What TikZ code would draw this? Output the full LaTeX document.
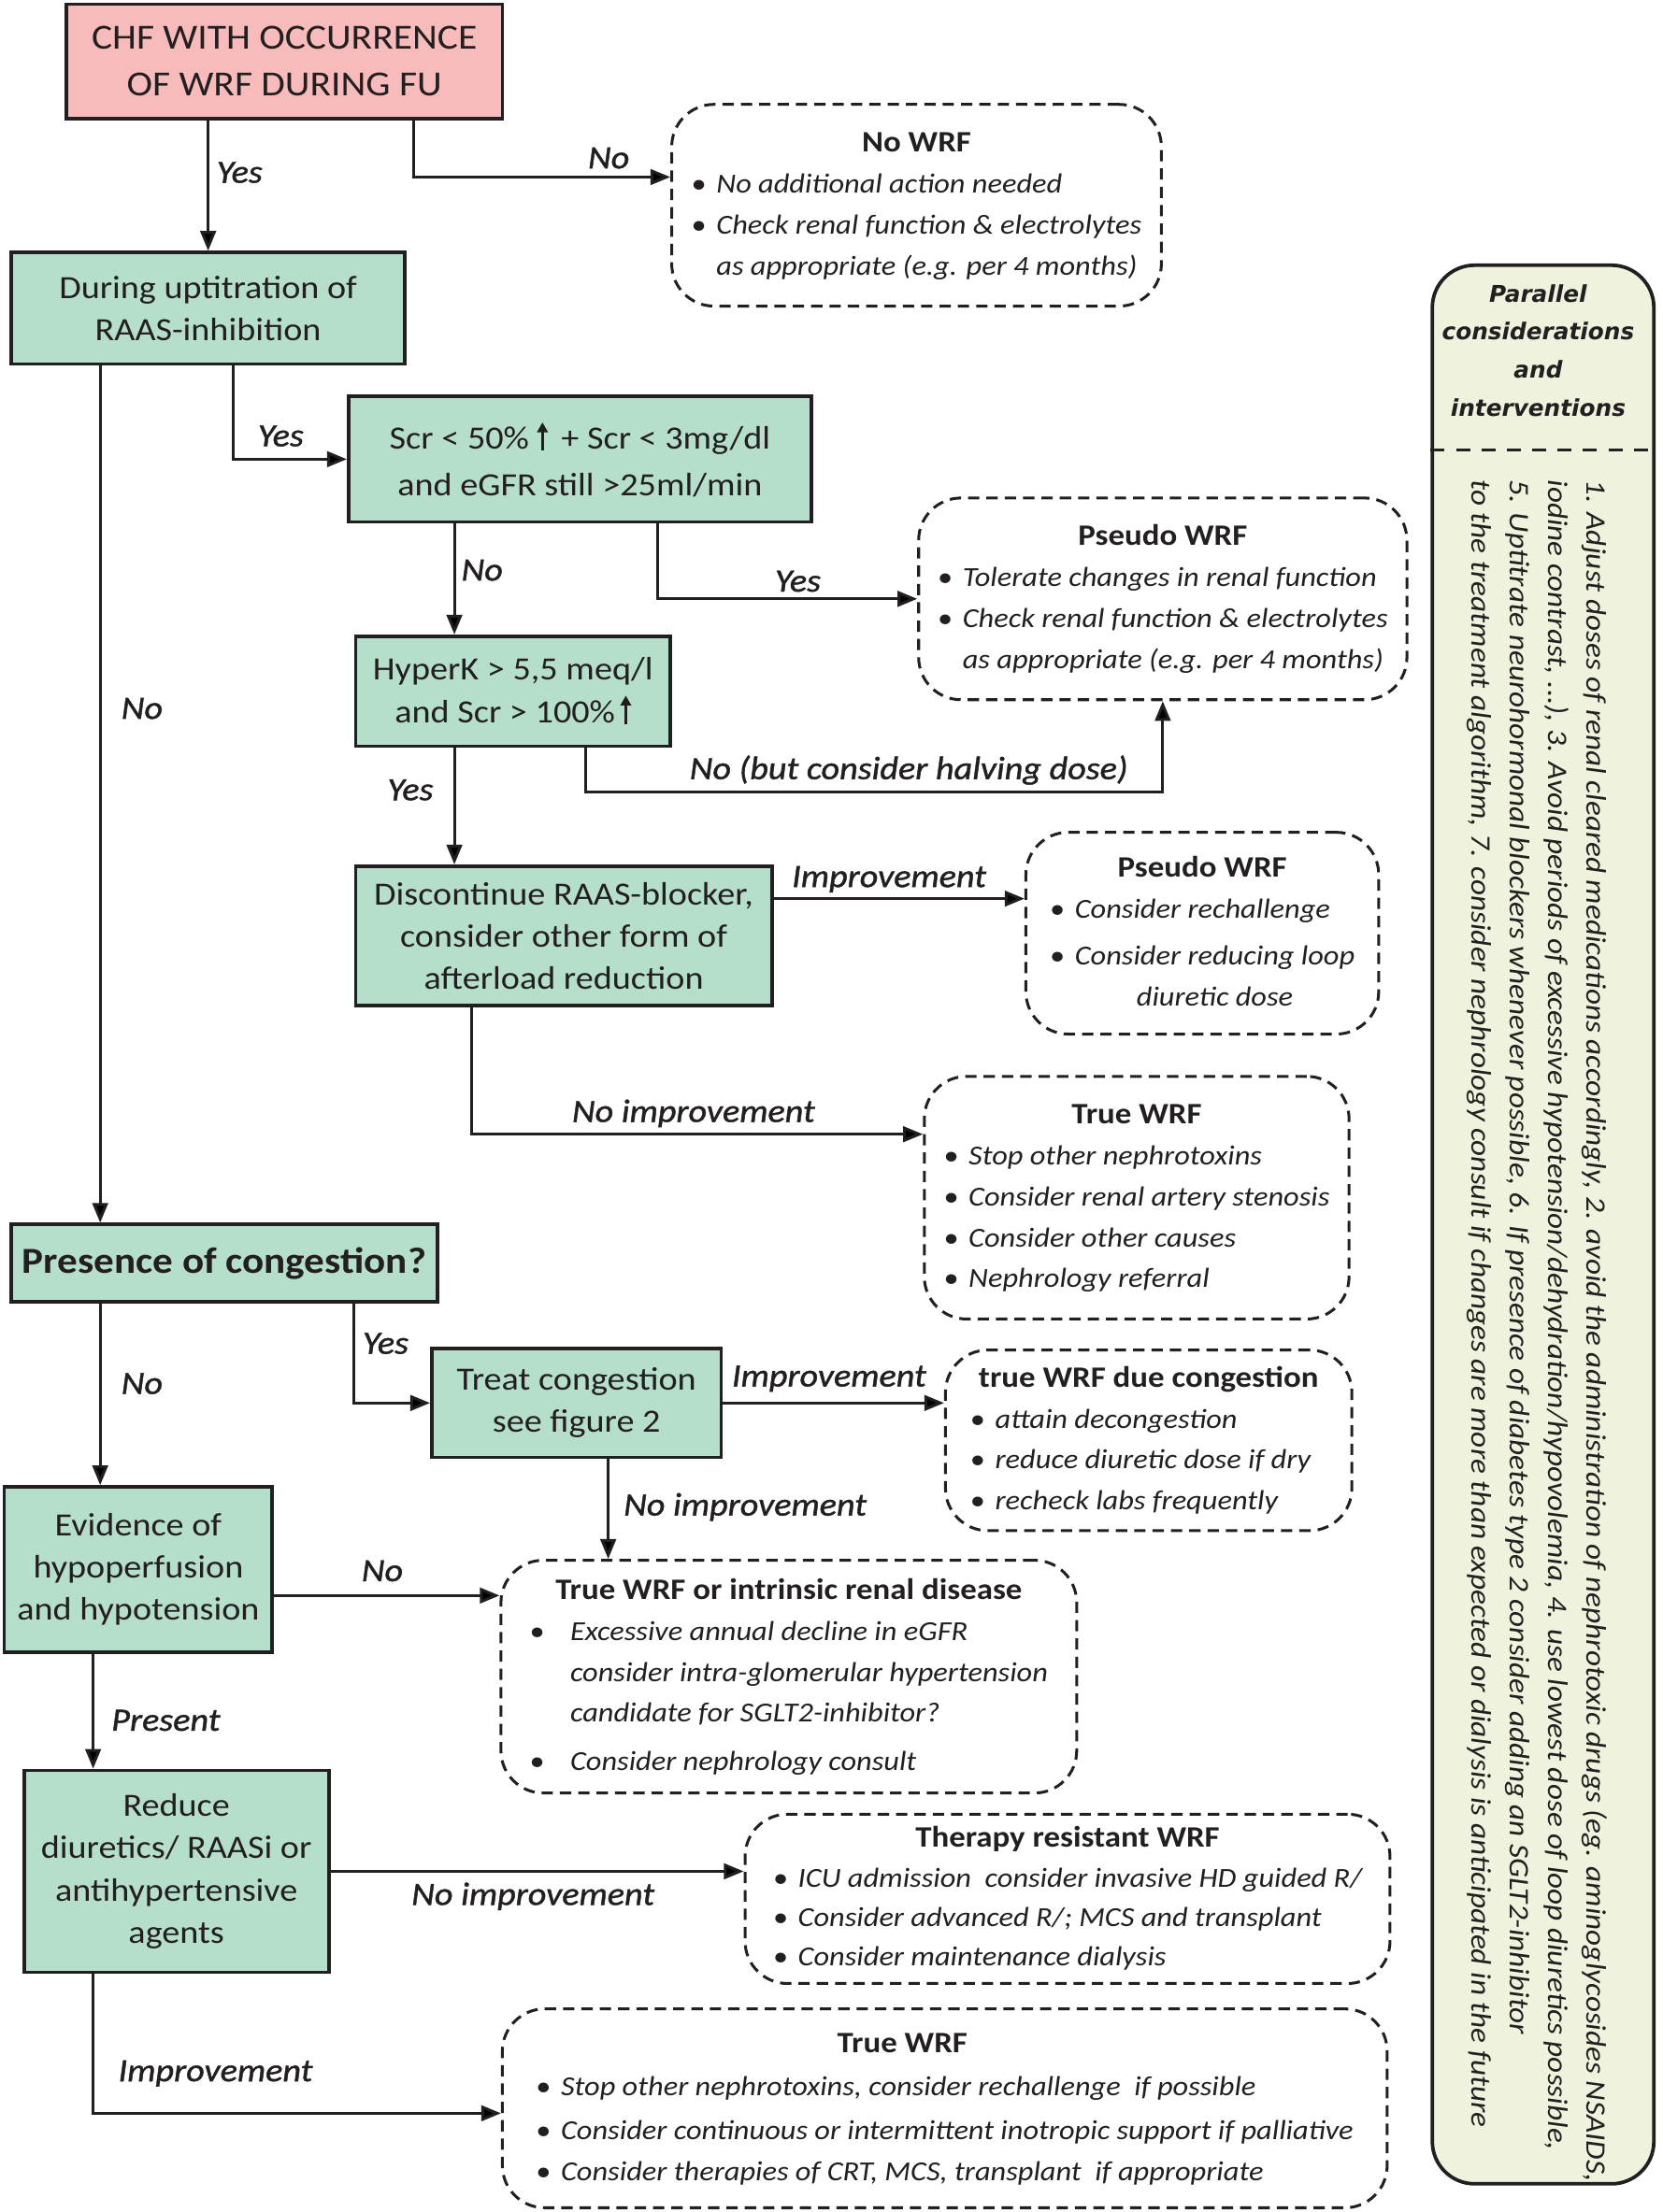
\documentclass[tikz,border=0pt]{standalone}
\usepackage{fontspec}
\setmainfont{Carlito}[FakeStretch=1.1]
\newfontfamily\labfont{Carlito}[FakeStretch=1.1, FakeBold=1.2]
\newfontfamily\headfont{DejaVu Sans}
\usepackage{array}
\usepackage{tikz}
\usetikzlibrary{arrows.meta}

\definecolor{linec}{HTML}{231F20}
\definecolor{greenc}{HTML}{B6DFCB}
\definecolor{pinkc}{HTML}{F8BBBB}
\definecolor{panelc}{HTML}{EFF2DD}

\newcommand{\uparr}{\tikz[baseline=0pt]\draw[linec,line width=1.6pt,-{Triangle[length=7pt,width=7.5pt]}] (0pt,-1pt) -- (0pt,19pt);}
\newcommand{\bul}{\textbullet}
\newcommand{\ttl}[1]{\multicolumn{2}{c}{\fontsize{21}{29}\selectfont\bfseries #1}}

\tikzset{
  greenbox/.style={draw=linec, line width=2.5pt, fill=greenc, text=linec, align=center, inner sep=0pt, font=\fontsize{23}{30}\selectfont},
  dashbox/.style={draw=linec, line width=2pt, dash pattern=on 8pt off 5pt, rounded corners=30pt, text=linec, inner sep=0pt, font=\fontsize{19.5}{29}\selectfont},
  arr/.style={draw=linec, line width=2pt, -{Triangle[length=14pt,width=11pt]}},
  lab/.style={text=linec, inner sep=2pt, font=\labfont\fontsize{23}{27}\selectfont\itshape},
}

\begin{document}
\begin{tikzpicture}[x=1pt,y=-1pt]
    \fill[white] (0,0) rectangle (1178,1568);
    \useasboundingbox (0,0) rectangle (1178,1568);

    % decision boxes
    \node[greenbox, fill=pinkc, minimum width=309pt, minimum height=81pt, font=\fontsize{25}{33}\selectfont] (chf) at (201.5,43.5) {CHF WITH OCCURRENCE\\OF WRF DURING FU};
    \node[greenbox, minimum width=279pt, minimum height=79pt] (during) at (147.5,218.5) {During uptitration of\\RAAS-inhibition};
    \node[greenbox, minimum width=328pt, minimum height=89pt, font=\fontsize{23}{33}\selectfont] (scr) at (411,325.5) {Scr < 50\% \uparr{} \,+ Scr < 3mg/dl\\and eGFR still >25ml/min};
    \node[greenbox, minimum width=223pt, minimum height=78pt] (hyperk) at (363.5,490) {HyperK > 5,5 meq/l\\and Scr > 100\%\,\uparr};
    \node[greenbox, minimum width=295pt, minimum height=99pt] (discont) at (399.5,663.5) {Discontinue RAAS-blocker,\\consider other form of\\afterload reduction};
    \node[greenbox, minimum width=302pt, minimum height=55pt, font=\fontsize{26}{30}\selectfont\bfseries] (cong) at (159,895.5) {Presence of congestion?};
    \node[greenbox, minimum width=205pt, minimum height=77pt] (treat) at (408.5,994.5) {Treat congestion\\see figure 2};
    \node[greenbox, minimum width=190pt, minimum height=117pt] (evid) at (98,1112.5) {Evidence of\\hypoperfusion\\and hypotension};
    \node[greenbox, minimum width=216pt, minimum height=143pt] (reduce) at (125,1326.5) {Reduce\\diuretics/ RAASi or\\antihypertensive\\agents};

    % outcome boxes
    \node[dashbox, minimum width=347pt, minimum height=143pt] (nowrf) at (649.5,145.5) {\begin{tabular}{@{}c@{\hspace{7pt}}>{\itshape}l@{}}
        \ttl{No WRF}\\
        \bul & No additional action needed\\
        \bul & Check renal function \& electrolytes\\
             & as appropriate (e.g. per 4 months)
    \end{tabular}};
    \node[dashbox, minimum width=346pt, minimum height=143pt] (pseudoa) at (824,424.5) {\begin{tabular}{@{}c@{\hspace{7pt}}>{\itshape}l@{}}
        \ttl{Pseudo WRF}\\
        \bul & Tolerate changes in renal function\\
        \bul & Check renal function \& electrolytes\\
             & as appropriate (e.g. per 4 months)
    \end{tabular}};
    \node[dashbox, minimum width=250pt, minimum height=143pt] (pseudob) at (852,661.5) {\begin{tabular}{@{}c@{\hspace{7pt}}>{\itshape}l@{}}
        \ttl{Pseudo WRF}\\
        \bul & Consider rechallenge\\[4pt]
        \bul & Consider reducing loop\\
             & \multicolumn{1}{c}{\itshape diuretic dose}
    \end{tabular}};
    \node[dashbox, minimum width=301pt, minimum height=172pt] (truea) at (805.5,849) {\begin{tabular}{@{}c@{\hspace{7pt}}>{\itshape}l@{}}
        \ttl{True WRF}\\
        \bul & Stop other nephrotoxins\\
        \bul & Consider renal artery stenosis\\
        \bul & Consider other causes\\
        \bul & Nephrology referral
    \end{tabular}};
    \node[dashbox, minimum width=288pt, minimum height=128pt] (truecong) at (814,1021) {\begin{tabular}{@{}c@{\hspace{7pt}}>{\itshape}l@{}}
        \ttl{true WRF due congestion}\\
        \bul & attain decongestion\\
        \bul & reduce diuretic dose if dry\\
        \bul & recheck labs frequently
    \end{tabular}};
    \node[dashbox, minimum width=408pt, minimum height=165pt] (intrinsic) at (559,1188.5) {\begin{tabular}{@{}c@{\hspace{18pt}}>{\itshape}l@{}}
        \ttl{True WRF or intrinsic renal disease}\\
        \bul & Excessive annual decline in eGFR\\
             & consider intra-glomerular hypertension\\
             & candidate for SGLT2-inhibitor?\\[5pt]
        \bul & Consider nephrology consult
    \end{tabular}};
    \node[dashbox, minimum width=457pt, minimum height=120pt, font=\fontsize{19.5}{28}\selectfont] (resist) at (756.5,1346) {\begin{tabular}{@{}c@{\hspace{7pt}}>{\itshape}l@{}}
        \ttl{Therapy resistant WRF}\\
        \bul & ICU admission\ \ consider invasive HD guided R/\\
        \bul & Consider advanced R/; MCS and transplant\\
        \bul & Consider maintenance dialysis
    \end{tabular}};
    \node[dashbox, minimum width=627pt, minimum height=141pt] (trueb) at (669.5,1494.5) {\begin{tabular}{@{}c@{\hspace{7pt}}>{\itshape}l@{}}
        \ttl{True WRF\hspace*{60pt}}\\[2pt]
        \bul & Stop other nephrotoxins, consider rechallenge\ \ if possible\\[2pt]
        \bul & Consider continuous or intermittent inotropic support if palliative\\
        \bul & Consider therapies of CRT, MCS, transplant\ \ if appropriate
    \end{tabular}};

    % side panel
    \node[draw=linec, line width=2.5pt, fill=panelc, rounded corners=30pt, minimum width=157pt, minimum height=1360pt, inner sep=0pt] (par) at (1093.5,868) {};
    \node[text=linec, align=center, font=\headfont\fontsize{16.4}{27}\selectfont\bfseries\itshape] (parhead) at (1090,248.5) {Parallel\\considerations\\and\\interventions};
    \coordinate (sep) at (1093.5,319);
    \draw[linec, line width=1.5pt, dash pattern=on 10pt off 8pt] (par.west |- sep) -- (par.east |- sep);
    \node[text=linec, rotate=-90, anchor=north west, inner sep=0pt, align=left, font=\fontsize{20}{27}\selectfont\itshape] (partext) at (1139,340) {1. Adjust doses of renal cleared medications accordingly, 2. avoid the administration of nephrotoxic drugs (eg. aminoglycosides NSAIDS,\\iodine contrast, ...), 3. Avoid periods of excessive hypotension/dehydration/hypovolemia, 4. use lowest dose of loop diuretics possible,\\5. Uptitrate neurohormonal blockers whenever possible, 6. If presence of diabetes type 2 consider adding an SGLT2-inhibitor\\to the treatment algorithm, 7. consider nephrology consult if changes are more than expected or dialysis is anticipated in the future};

    % connectors
    \coordinate (p1) at ([xshift=-76.5pt]during.south);
    \coordinate (c2) at ([xshift=-41.5pt]hyperk.north);
    \coordinate (c3) at ([yshift=26.5pt]discont.east);
    \coordinate (c4) at ([xshift=22.5pt]treat.south);
    \coordinate (c5) at ([yshift=-18.5pt]evid.east);
    \coordinate (c6) at ([xshift=-32pt]evid.south);

    \draw[arr] (chf.south -| during.north) -- node[lab, pos=0.4, right=3pt] (yes1) {Yes} (during.north);
    \draw[arr] ([xshift=-64pt]chf.south east) |- node[lab, pos=0.88, above=3pt] (no1) {No} ([yshift=20pt]nowrf.west);
    \draw[arr] ([xshift=17.5pt]during.south) |- node[lab, pos=0.71, above=6pt] (yes2) {Yes} (scr.west);
    \draw[arr] (p1) -- node[lab, pos=0.4, right=12pt] (no2) {No} (p1 |- cong.north);
    \draw[arr] (c2 |- scr.south) -- node[lab, pos=0.42, right=2pt] (no3) {No} (c2);
    \draw[arr] ([xshift=55pt]scr.south) |- node[lab, pos=0.77, above=2pt] (yes3) {Yes} (pseudoa.west);
    \draw[arr] ([xshift=51.5pt]hyperk.south) -- ++(0,31) -| node[lab, pos=0.28, above=2pt] (nohalf) {No (but consider halving dose)} (pseudoa.south);
    \draw[arr] (c2 |- hyperk.south) -- node[lab, pos=0.36, left=12pt] (yes4) {Yes} (c2 |- discont.north);
    \draw[arr] (c3) -- node[lab, pos=0.46, above=1.5pt] (imp1) {Improvement} (c3 -| pseudob.west);
    \draw[arr] ([xshift=-65.5pt]discont.south) |- node[lab, pos=0.746, above=2pt] (noimp1) {No improvement} ([yshift=45pt]truea.west);
    \draw[arr] (p1 |- cong.south) -- node[lab, pos=0.44, right=12pt] (no4) {No} (p1 |- evid.north);
    \draw[arr] ([xshift=92pt]cong.south) |- node[lab, pos=0.2, right=3pt] (yes5) {Yes} (treat.west);
    \draw[arr] (treat.east) -- node[lab, pos=0.48, above=5pt] (imp2) {Improvement} (treat.east -| truecong.west);
    \draw[arr] (c4) -- node[lab, pos=0.48, right=8pt] (noimp2) {No improvement} (c4 |- intrinsic.north);
    \draw[arr] (c5) -- node[lab, pos=0.48, above=7pt] (no5) {No} (c5 -| intrinsic.west);
    \draw[arr] (c6) -- node[lab, pos=0.58, right=10pt] (present) {Present} (c6 |- reduce.north);
    \draw[arr] (reduce.east) -- node[lab, pos=0.49, below=5pt] (noimp3) {No improvement} (reduce.east -| resist.west);
    \draw[arr] (c6 |- reduce.south) |- node[lab, pos=0.65, above=16pt] (imp3) {Improvement} ([yshift=-3.5pt]trueb.west);
\end{tikzpicture}
\end{document}
